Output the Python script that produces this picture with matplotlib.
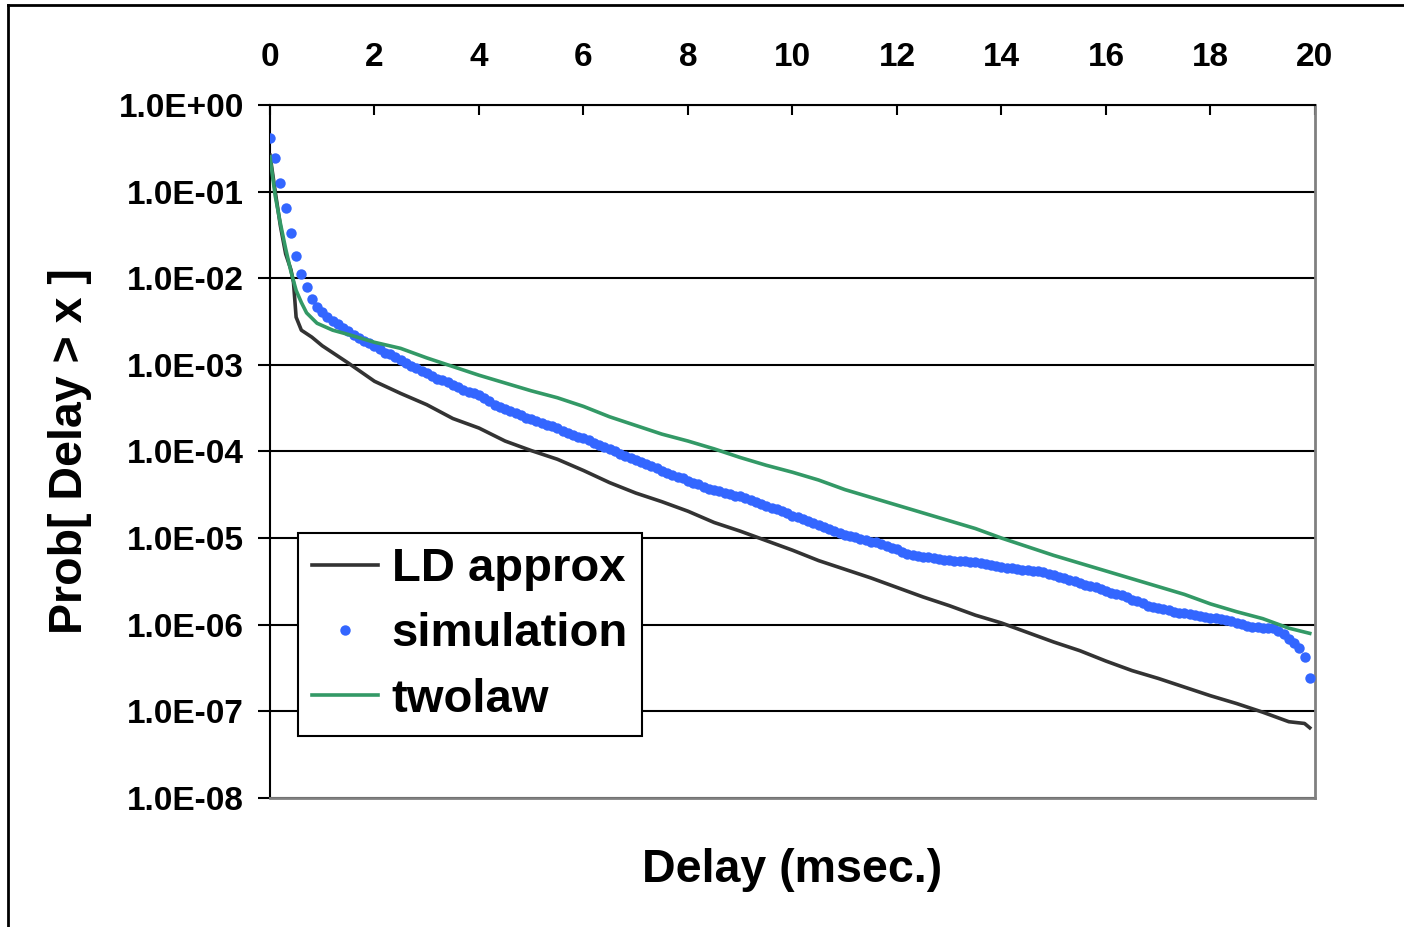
import matplotlib.pyplot as plt
from matplotlib.lines import Line2D
import numpy as np

# Delay tail probabilities, stored as log10 values

# LD approx
ld_x = [0, 0.1, 0.2, 0.3, 0.4, 0.45, 0.5, 0.6, 0.8, 1.0, 1.5, 2.0, 2.5, 3.0, 3.5,
        4.0, 4.5, 5.0, 5.5, 6.0, 6.5, 7.0, 7.5, 8.0, 8.5, 9.0, 9.5, 10.0, 10.5,
        11.0, 11.5, 12.0, 12.5, 13.0, 13.5, 14.0, 14.5, 15.0, 15.5, 16.0, 16.5,
        17.0, 17.5, 18.0, 18.5, 19.0, 19.5, 19.8, 19.9]
ld_log = [-0.58, -1.0, -1.4, -1.72, -1.9, -2.05, -2.45, -2.6, -2.68, -2.78, -2.98,
          -3.19, -3.33, -3.46, -3.62, -3.73, -3.88, -3.99, -4.09, -4.22, -4.36,
          -4.48, -4.58, -4.69, -4.82, -4.92, -5.03, -5.14, -5.26, -5.36, -5.46,
          -5.57, -5.68, -5.78, -5.89, -5.98, -6.09, -6.2, -6.30, -6.42, -6.53,
          -6.62, -6.72, -6.82, -6.91, -7.01, -7.12, -7.14, -7.19]

# twolaw
tw_x = [0, 0.1, 0.2, 0.3, 0.4, 0.5, 0.6, 0.7, 0.9, 1.2, 1.5, 2.0, 2.5, 3.0, 3.5,
        4.0, 4.5, 5.0, 5.5, 6.0, 6.5, 7.0, 7.5, 8.0, 8.5, 9.0, 9.5, 10.0, 10.5,
        11.0, 11.5, 12.0, 12.5, 13.0, 13.5, 14.0, 14.5, 15.0, 15.5, 16.0, 16.5,
        17.0, 17.5, 18.0, 18.5, 19.0, 19.5, 19.9]
tw_log = [-0.6, -1.05, -1.37, -1.66, -1.92, -2.14, -2.28, -2.40, -2.52, -2.60,
          -2.65, -2.74, -2.81, -2.92, -3.02, -3.12, -3.21, -3.30, -3.38, -3.48,
          -3.60, -3.70, -3.80, -3.88, -3.97, -4.07, -4.16, -4.24, -4.33, -4.44,
          -4.53, -4.62, -4.71, -4.80, -4.89, -5.00, -5.10, -5.20, -5.29, -5.38,
          -5.47, -5.56, -5.65, -5.76, -5.85, -5.93, -6.04, -6.10]

# simulation, one point every 0.1 msec starting at 0
sim_step = 0.1
sim_log = [
    -0.38, -0.61, -0.90, -1.19, -1.48, -1.74, -1.95, -2.10, -2.24, -2.33,
    -2.39, -2.45, -2.49, -2.53, -2.57, -2.61, -2.66, -2.69, -2.72, -2.75,
    -2.78, -2.82, -2.86, -2.88, -2.91, -2.94, -2.98, -3.01, -3.04, -3.07,
    -3.10, -3.13, -3.16, -3.18, -3.20, -3.23, -3.26, -3.29, -3.31, -3.33,
    -3.35, -3.38, -3.42, -3.46, -3.49, -3.51, -3.53, -3.56, -3.58, -3.61,
    -3.63, -3.65, -3.67, -3.69, -3.71, -3.73, -3.76, -3.79, -3.81, -3.83,
    -3.85, -3.87, -3.90, -3.92, -3.95, -3.97, -4.00, -4.03, -4.05, -4.07,
    -4.10, -4.12, -4.14, -4.17, -4.19, -4.22, -4.25, -4.27, -4.29, -4.31,
    -4.34, -4.36, -4.38, -4.41, -4.43, -4.45, -4.46, -4.48, -4.49, -4.51,
    -4.52, -4.54, -4.56, -4.58, -4.61, -4.63, -4.65, -4.67, -4.69, -4.71,
    -4.74, -4.76, -4.78, -4.80, -4.83, -4.85, -4.87, -4.90, -4.92, -4.94,
    -4.96, -4.98, -4.99, -5.01, -5.02, -5.04, -5.05, -5.07, -5.09, -5.11,
    -5.13, -5.16, -5.18, -5.20, -5.21, -5.22, -5.22, -5.23, -5.24, -5.25,
    -5.25, -5.26, -5.26, -5.27, -5.28, -5.28, -5.29, -5.30, -5.31, -5.32,
    -5.33, -5.34, -5.35, -5.36, -5.37, -5.37, -5.38, -5.38, -5.39, -5.41,
    -5.43, -5.45, -5.46, -5.48, -5.50, -5.52, -5.54, -5.55, -5.57, -5.59,
    -5.61, -5.63, -5.65, -5.66, -5.68, -5.71, -5.73, -5.75, -5.78, -5.80,
    -5.81, -5.82, -5.83, -5.85, -5.86, -5.87, -5.88, -5.89, -5.90, -5.91,
    -5.92, -5.92, -5.93, -5.94, -5.96, -5.98, -5.99, -6.01, -6.03, -6.03,
    -6.04, -6.04, -6.04, -6.07, -6.11, -6.16, -6.21, -6.27, -6.37, -6.62,
]

y_ticks = [1e0, 1e-1, 1e-2, 1e-3, 1e-4, 1e-5, 1e-6, 1e-7, 1e-8]
y_labels = ["1.0E+00", "1.0E-01", "1.0E-02", "1.0E-03", "1.0E-04",
            "1.0E-05", "1.0E-06", "1.0E-07", "1.0E-08"]
x_ticks = [0, 2, 4, 6, 8, 10, 12, 14, 16, 18, 20]

plt.rcParams['font.family'] = ['Liberation Sans', 'DejaVu Sans']
plt.rcParams['font.weight'] = 'bold'

fig = plt.figure(figsize=(14.04, 9.27), dpi=100)
ax = fig.add_axes([0.1923, 0.1392, 0.7443, 0.7476])

ld_y = 10.0 ** np.array(ld_log)
tw_y = 10.0 ** np.array(tw_log)
sim_y = 10.0 ** np.array(sim_log)
sim_x = np.arange(len(sim_log)) * sim_step

ax.plot(ld_x, ld_y, color='#333333', lw=2.6, label='LD approx', zorder=3)
ax.plot(sim_x, sim_y, ls='none', marker='o', ms=7.5, color='#3366FF',
        markeredgewidth=0, label='simulation', zorder=4)
ax.plot(tw_x, tw_y, color='#339966', lw=2.6, label='twolaw', zorder=5)

ax.set_yscale('log')
ax.set_ylim(1e-8, 1)
ax.set_xlim(0, 20)
ax.set_yticks(y_ticks)
ax.set_yticklabels(y_labels)
ax.minorticks_off()
ax.yaxis.set_minor_locator(plt.NullLocator())
ax.set_xticks(x_ticks)

ax.xaxis.tick_top()
ax.tick_params(axis='x', direction='in', length=7, width=1.5, pad=23,
               labelsize=24, top=True, bottom=False)
ax.tick_params(axis='y', direction='out', length=8.6, width=1.5, pad=10,
               labelsize=24, right=False)
for lab in ax.get_xticklabels() + ax.get_yticklabels():
    lab.set_fontweight('bold')

ax.grid(axis='y', color='black', lw=1.5)
ax.set_axisbelow(True)

ax.spines['left'].set_color('black')
ax.spines['top'].set_color('black')
ax.spines['left'].set_linewidth(1.5)
ax.spines['top'].set_linewidth(1.5)
ax.spines['right'].set_color('#808080')
ax.spines['bottom'].set_color('#808080')
ax.spines['right'].set_linewidth(2)
ax.spines['bottom'].set_linewidth(2)

ax.xaxis.set_label_position('bottom')
ax.set_xlabel('Delay (msec.)', fontsize=33.5, fontweight='bold', va='center')
ax.xaxis.set_label_coords(0.5, -0.104)
ax.set_ylabel('Prob[ Delay > x ]', fontsize=33.5, fontweight='bold', va='center')
ax.yaxis.set_label_coords(-0.191, 0.5)

leg = ax.legend(loc='upper left', bbox_to_anchor=(298 / 1404, 1 - 533 / 927),
                bbox_transform=fig.transFigure, borderaxespad=0,
                prop={'family': 'Liberation Sans', 'weight': 'bold', 'size': 34},
                handlelength=1.4, handletextpad=0.28, labelspacing=0.45,
                borderpad=0.3, numpoints=1, fancybox=False, framealpha=1)
leg.get_frame().set_edgecolor('black')
leg.get_frame().set_linewidth(1.5)

# outer chart border (left and top edges visible)
fig.add_artist(Line2D([8 / 1404, 8 / 1404], [0, 1 - 5 / 927], color='black',
                      lw=2, transform=fig.transFigure))
fig.add_artist(Line2D([8 / 1404, 1], [1 - 5 / 927, 1 - 5 / 927], color='black',
                      lw=2, transform=fig.transFigure))

fig.savefig('out.png', dpi=100)
